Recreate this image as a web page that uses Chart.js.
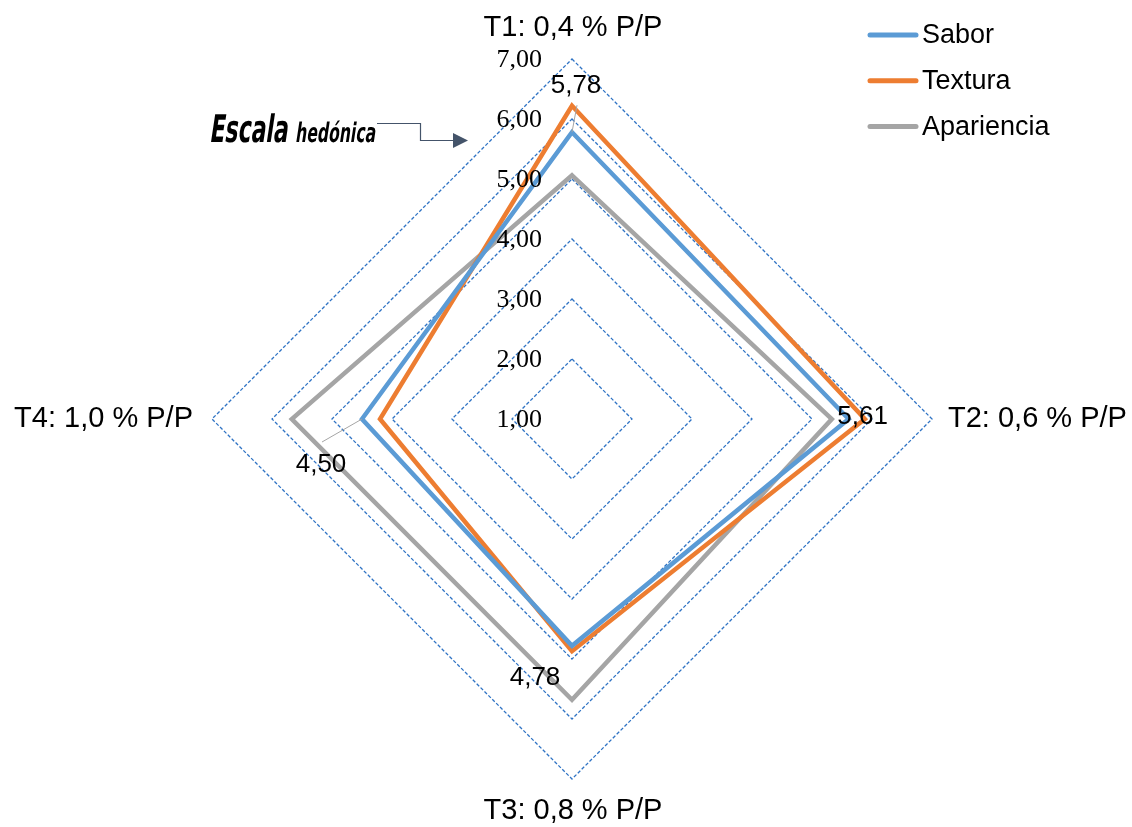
<!DOCTYPE html>
<html lang="es">
<head>
<meta charset="utf-8">
<title>Escala hedónica por tratamiento</title>
<script src="https://cdn.jsdelivr.net/npm/chart.js@4.4.0/dist/chart.umd.min.js"></script>
<style>
  html, body { margin: 0; padding: 0; background: #ffffff; }
  #wrap { width: 1132px; height: 827px; position: relative; }
</style>
</head>
<body>
<div id="wrap"><canvas id="radar" width="1132" height="827"></canvas></div>
<script>
// Treatments (concentration of the additive)
const categories = ['T1: 0,4 % P/P', 'T2: 0,6 % P/P', 'T3: 0,8 % P/P', 'T4: 1,0 % P/P'];

// Mean hedonic scores per attribute
const sabor      = [5.78, 5.61, 4.78, 4.50];
const textura    = [6.22, 5.88, 4.87, 4.20];
const apariencia = [5.06, 5.33, 5.68, 5.67];

// Radial scale ticks
const tickValues = [1, 2, 3, 4, 5, 6, 7];
const tickLabels = ['1,00', '2,00', '3,00', '4,00', '5,00', '6,00', '7,00'];

const seriesNames  = ['Sabor', 'Textura', 'Apariencia'];
const seriesColors = ['#5b9bd5', '#ed7d31', '#a5a5a5'];

const fmt = v => v.toFixed(2).replace('.', ',');

// Tick labels, axis titles, value labels, legend and the annotation
const decorations = {
  id: 'decorations',
  afterDatasetsDraw(chart) {
    const ctx = chart.ctx;
    const r = chart.scales.r;
    ctx.save();

    // tick labels along the T1 axis, to the left of it
    ctx.font = '26px "Liberation Serif", "Times New Roman", serif';
    ctx.fillStyle = '#000000';
    ctx.textAlign = 'right';
    ctx.textBaseline = 'middle';
    tickValues.forEach((v, i) => {
      const p = r.getPointPositionForValue(0, v);
      ctx.fillText(tickLabels[i], p.x - 30, p.y + 1);
    });

    // axis titles around the outer ring
    ctx.font = '29px "Liberation Sans", Arial, sans-serif';
    ctx.fillStyle = '#000000';
    const top = r.getPointPositionForValue(0, r.max);
    const right = r.getPointPositionForValue(1, r.max);
    const bottom = r.getPointPositionForValue(2, r.max);
    const left = r.getPointPositionForValue(3, r.max);
    ctx.textBaseline = 'middle';
    ctx.textAlign = 'center';
    ctx.fillText(categories[0], top.x + 1, top.y - 31);
    ctx.fillText(categories[2], bottom.x + 1, bottom.y + 32);
    ctx.textAlign = 'left';
    ctx.fillText(categories[1], right.x + 16, right.y);
    ctx.textAlign = 'right';
    ctx.fillText(categories[3], left.x - 19, left.y);

    // value labels of the Sabor series, with leader lines where offset
    const meta = chart.getDatasetMeta(0);
    const pts = meta.data.map(e => ({ x: e.x, y: e.y }));
    const labelPos = [
      { x: pts[0].x + 4,   y: pts[0].y - 46, lead: { x: pts[0].x + 5, y: pts[0].y - 27 } },
      { x: pts[1].x + 14,  y: pts[1].y - 2,  lead: null },
      { x: pts[2].x - 37,  y: pts[2].y + 32, lead: null },
      { x: pts[3].x - 41,  y: pts[3].y + 46, lead: { x: pts[3].x - 40, y: pts[3].y + 23 } }
    ];
    ctx.strokeStyle = '#a5a5a5';
    ctx.lineWidth = 1;
    labelPos.forEach((lp, i) => {
      if (lp.lead) {
        ctx.beginPath();
        ctx.moveTo(lp.lead.x, lp.lead.y);
        ctx.lineTo(pts[i].x, pts[i].y);
        ctx.stroke();
      }
    });
    ctx.font = '26px "Liberation Sans", Arial, sans-serif';
    ctx.fillStyle = '#000000';
    ctx.textAlign = 'center';
    ctx.textBaseline = 'middle';
    labelPos.forEach((lp, i) => {
      ctx.fillText(fmt(sabor[i]), lp.x, lp.y);
    });

    // legend
    chart.data.datasets.forEach((ds, i) => {
      const y = 35 + i * 45.8;
      ctx.strokeStyle = ds.borderColor;
      ctx.lineWidth = 5;
      ctx.lineCap = 'round';
      ctx.beginPath();
      ctx.moveTo(870, y);
      ctx.lineTo(916, y);
      ctx.stroke();
      ctx.font = '27px "Liberation Sans", Arial, sans-serif';
      ctx.fillStyle = '#000000';
      ctx.textAlign = 'left';
      ctx.textBaseline = 'middle';
      ctx.fillText(ds.label, 922, y + 1);
    });

    // "Escala hedónica" annotation with elbow arrow
    ctx.fillStyle = '#000000';
    ctx.textAlign = 'left';
    ctx.textBaseline = 'alphabetic';
    ctx.save();
    ctx.translate(209, 142);
    ctx.transform(1, 0, -0.15, 1, 0, 0);
    const bigFont = 'bold 38px "DejaVu Sans Condensed", "DejaVu Sans", sans-serif';
    const smallFont = 'bold 27px "DejaVu Sans Condensed", "DejaVu Sans", sans-serif';
    ctx.font = bigFont;
    const w1 = ctx.measureText('Escala ').width;
    ctx.font = smallFont;
    const w2 = ctx.measureText('hedónica').width;
    const k = 166 / (w1 + w2);
    ctx.scale(k, 1);
    ctx.font = bigFont;
    ctx.fillText('Escala ', 0, 0);
    ctx.font = smallFont;
    ctx.fillText('hedónica', w1, 0);
    ctx.restore();

    ctx.strokeStyle = '#44546a';
    ctx.fillStyle = '#44546a';
    ctx.lineWidth = 1.2;
    ctx.lineCap = 'butt';
    ctx.beginPath();
    ctx.moveTo(377, 123.5);
    ctx.lineTo(420.5, 123.5);
    ctx.lineTo(420.5, 140.5);
    ctx.lineTo(455, 140.5);
    ctx.stroke();
    ctx.beginPath();
    ctx.moveTo(468, 140.5);
    ctx.lineTo(453, 133);
    ctx.lineTo(453, 148);
    ctx.closePath();
    ctx.fill();

    ctx.restore();
  }
};

const datasets = [sabor, textura, apariencia].map((vals, i) => ({
  label: seriesNames[i],
  data: vals,
  borderColor: seriesColors[i],
  backgroundColor: 'rgba(0,0,0,0)',
  borderWidth: 4.5,
  fill: false,
  pointRadius: 0,
  pointHoverRadius: 0,
  tension: 0,
  borderJoinStyle: 'miter'
}));
// draw Sabor on top of the other two
datasets[0].order = 0;
datasets[1].order = 1;
datasets[2].order = 2;

new Chart(document.getElementById('radar'), {
  type: 'radar',
  data: { labels: categories, datasets },
  options: {
    responsive: false,
    animation: false,
    devicePixelRatio: 1,
    layout: { padding: { top: 59, bottom: 48, left: 112, right: 100 } },
    plugins: {
      legend: { display: false },
      tooltip: { enabled: false }
    },
    elements: { line: { borderJoinStyle: 'miter' } },
    scales: {
      r: {
        min: tickValues[0],
        max: tickValues[tickValues.length - 1],
        ticks: { display: false, stepSize: 1 },
        pointLabels: { display: false },
        angleLines: { display: false },
        grid: { circular: false, color: '#2f73c4', lineWidth: 1.3 },
        border: { dash: [3.5, 2] }
      }
    }
  },
  plugins: [decorations]
});
</script>
</body>
</html>
